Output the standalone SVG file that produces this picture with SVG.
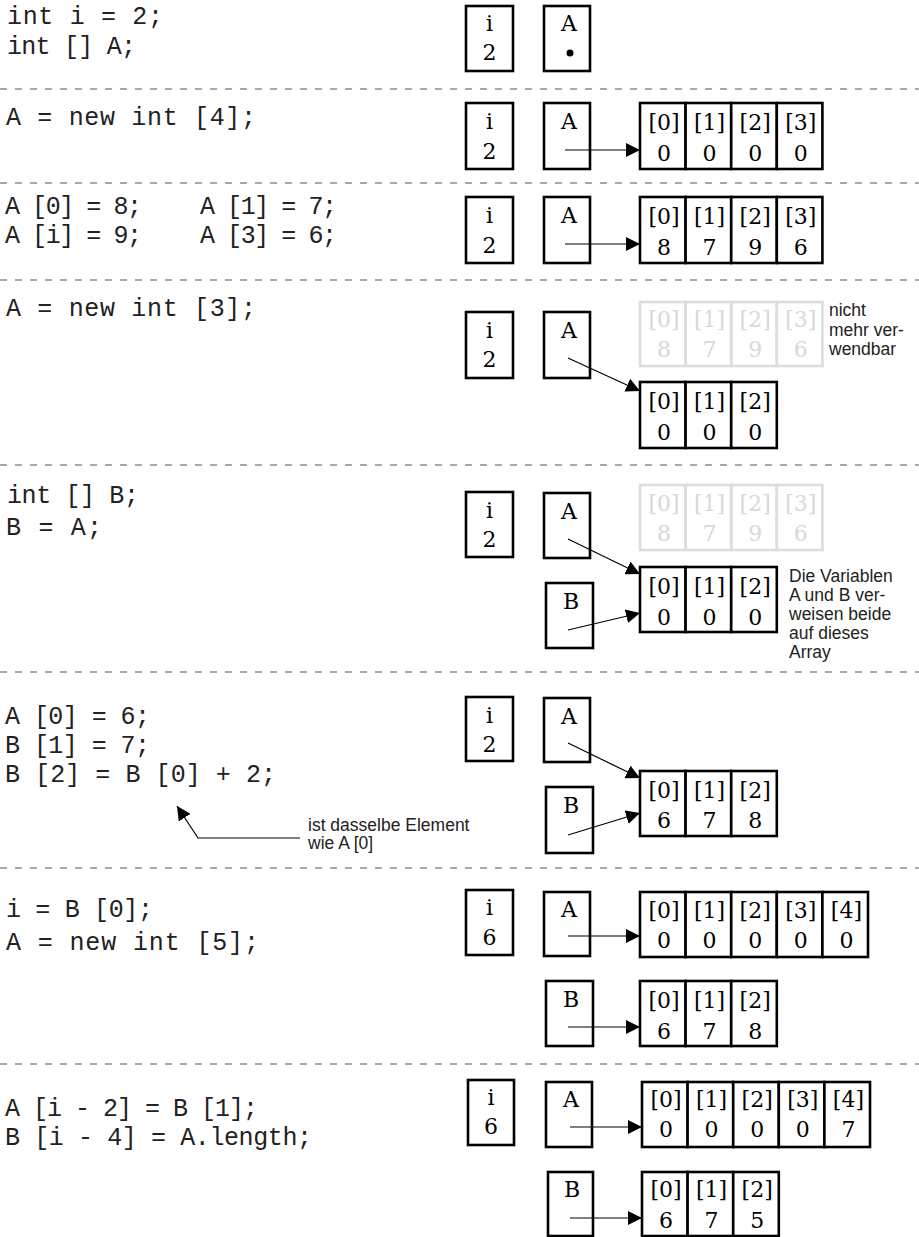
<svg xmlns="http://www.w3.org/2000/svg" width="919" height="1237" viewBox="0 0 919 1237">
<defs>
<marker id="ah" viewBox="0 0 14 14" refX="14" refY="7" markerWidth="14" markerHeight="14" markerUnits="userSpaceOnUse" orient="auto"><path d="M0,0 L14,7 L0,14 z" fill="#000"/></marker>
<style>
.box{fill:#fff;stroke:#000;stroke-width:2.6}
.fbox{fill:none;stroke:#dcdcdc;stroke-width:2.6}
.lbl{font-family:"DejaVu Serif","Liberation Serif",serif;font-size:22px;text-anchor:middle;fill:#000}
.flbl{font-family:"DejaVu Serif","Liberation Serif",serif;font-size:22px;text-anchor:middle;fill:#d8d8d8}
.code{font-family:"Liberation Mono",monospace;font-size:25px;fill:#222;white-space:pre}
.note{font-family:"Liberation Sans",sans-serif;font-size:17.5px;fill:#222}
.sep{stroke:#555;stroke-width:1.2;stroke-dasharray:7 8;fill:none}
.conn{stroke:#000;stroke-width:1.2;fill:none;marker-end:url(#ah)}
</style>
</defs>
<rect width="919" height="1237" fill="#fff"/>

<g id="separators">
<line class="sep" x1="0" y1="89" x2="919" y2="89"/>
<line class="sep" x1="0" y1="183" x2="919" y2="183"/>
<line class="sep" x1="0" y1="280" x2="919" y2="280"/>
<line class="sep" x1="0" y1="465" x2="919" y2="465"/>
<line class="sep" x1="0" y1="672" x2="919" y2="672"/>
<line class="sep" x1="0" y1="868" x2="919" y2="868"/>
<line class="sep" x1="0" y1="1064" x2="919" y2="1064"/>
</g>

<g id="code">
<text class="code" x="7" y="24" textLength="156" lengthAdjust="spacing">int i = 2;</text>
<text class="code" x="7" y="54" textLength="129" lengthAdjust="spacing">int [] A;</text>
<text class="code" x="6" y="125" textLength="250" lengthAdjust="spacing">A = new int [4];</text>
<text class="code" x="5" y="214" textLength="137" lengthAdjust="spacing">A [0] = 8;</text>
<text class="code" x="200" y="214" textLength="137" lengthAdjust="spacing">A [1] = 7;</text>
<text class="code" x="5" y="243" textLength="137" lengthAdjust="spacing">A [i] = 9;</text>
<text class="code" x="200" y="243" textLength="137" lengthAdjust="spacing">A [3] = 6;</text>
<text class="code" x="6" y="316" textLength="250" lengthAdjust="spacing">A = new int [3];</text>
<text class="code" x="7" y="503" textLength="132" lengthAdjust="spacing">int [] B;</text>
<text class="code" x="6" y="535" textLength="96" lengthAdjust="spacing">B = A;</text>
<text class="code" x="5" y="724" textLength="145" lengthAdjust="spacing">A [0] = 6;</text>
<text class="code" x="5" y="753" textLength="145" lengthAdjust="spacing">B [1] = 7;</text>
<text class="code" x="5" y="782" textLength="271" lengthAdjust="spacing">B [2] = B [0] + 2;</text>
<text class="code" x="6" y="917" textLength="147" lengthAdjust="spacing">i = B [0];</text>
<text class="code" x="6" y="950" textLength="253" lengthAdjust="spacing">A = new int [5];</text>
<text class="code" x="5" y="1116" textLength="253" lengthAdjust="spacing">A [i - 2] = B [1];</text>
<text class="code" x="5" y="1145" textLength="307" lengthAdjust="spacing">B [i - 4] = A.length;</text>
</g>

<!-- Section 1 -->
<g id="s1-i"><rect class="box" x="466" y="6" width="47" height="65"/><text class="lbl" x="489.5" y="31">i</text><text class="lbl" x="489.5" y="60">2</text></g>
<g id="s1-A"><rect class="box" x="544" y="6" width="46" height="65"/><text class="lbl" x="569" y="31">A</text><circle cx="570" cy="53" r="3.5" fill="#000"/></g>

<!-- Section 2 -->
<g id="s2-i"><rect class="box" x="466" y="103" width="47" height="66"/><text class="lbl" x="489.5" y="129">i</text><text class="lbl" x="489.5" y="159">2</text></g>
<g id="s2-A"><rect class="box" x="544" y="103" width="46" height="66"/><text class="lbl" x="569" y="129">A</text></g>
<g id="s2-arr">
<rect class="box" x="640" y="103" width="45.6" height="66"/><rect class="box" x="685.6" y="103" width="45.6" height="66"/><rect class="box" x="731.2" y="103" width="45.6" height="66"/><rect class="box" x="776.8" y="103" width="45.6" height="66"/>
<text class="lbl" x="664" y="130">[0]</text><text class="lbl" x="709.6" y="130">[1]</text><text class="lbl" x="755.2" y="130">[2]</text><text class="lbl" x="800.8" y="130">[3]</text>
<text class="lbl" x="664" y="161">0</text><text class="lbl" x="709.6" y="161">0</text><text class="lbl" x="755.2" y="161">0</text><text class="lbl" x="800.8" y="161">0</text>
</g>

<!-- Section 3 -->
<g id="s3-i"><rect class="box" x="466" y="197" width="47" height="66"/><text class="lbl" x="489.5" y="223">i</text><text class="lbl" x="489.5" y="253">2</text></g>
<g id="s3-A"><rect class="box" x="544" y="197" width="46" height="66"/><text class="lbl" x="569" y="223">A</text></g>
<g id="s3-arr">
<rect class="box" x="640" y="197" width="45.6" height="66"/><rect class="box" x="685.6" y="197" width="45.6" height="66"/><rect class="box" x="731.2" y="197" width="45.6" height="66"/><rect class="box" x="776.8" y="197" width="45.6" height="66"/>
<text class="lbl" x="664" y="224">[0]</text><text class="lbl" x="709.6" y="224">[1]</text><text class="lbl" x="755.2" y="224">[2]</text><text class="lbl" x="800.8" y="224">[3]</text>
<text class="lbl" x="664" y="255">8</text><text class="lbl" x="709.6" y="255">7</text><text class="lbl" x="755.2" y="255">9</text><text class="lbl" x="800.8" y="255">6</text>
</g>

<!-- Section 4 -->
<g id="s4-i"><rect class="box" x="466" y="312" width="47" height="66"/><text class="lbl" x="489.5" y="338">i</text><text class="lbl" x="489.5" y="367">2</text></g>
<g id="s4-A"><rect class="box" x="544" y="312" width="46" height="66"/><text class="lbl" x="569" y="338">A</text></g>
<g id="s4-old">
<rect class="fbox" x="640" y="302" width="45.6" height="64"/><rect class="fbox" x="685.6" y="302" width="45.6" height="64"/><rect class="fbox" x="731.2" y="302" width="45.6" height="64"/><rect class="fbox" x="776.8" y="302" width="45.6" height="64"/>
<text class="flbl" x="664" y="327">[0]</text><text class="flbl" x="709.6" y="327">[1]</text><text class="flbl" x="755.2" y="327">[2]</text><text class="flbl" x="800.8" y="327">[3]</text>
<text class="flbl" x="664" y="357">8</text><text class="flbl" x="709.6" y="357">7</text><text class="flbl" x="755.2" y="357">9</text><text class="flbl" x="800.8" y="357">6</text>
</g>
<g id="s4-note"><text class="note" x="829" y="316">nicht</text><text class="note" x="829" y="336">mehr ver-</text><text class="note" x="829" y="355">wendbar</text></g>
<g id="s4-arr">
<rect class="box" x="640" y="382" width="45.6" height="66"/><rect class="box" x="685.6" y="382" width="45.6" height="66"/><rect class="box" x="731.2" y="382" width="45.6" height="66"/>
<text class="lbl" x="664" y="409">[0]</text><text class="lbl" x="709.6" y="409">[1]</text><text class="lbl" x="755.2" y="409">[2]</text>
<text class="lbl" x="664" y="440">0</text><text class="lbl" x="709.6" y="440">0</text><text class="lbl" x="755.2" y="440">0</text>
</g>

<!-- Section 5 -->
<g id="s5-i"><rect class="box" x="466" y="492" width="47" height="65"/><text class="lbl" x="489.5" y="518">i</text><text class="lbl" x="489.5" y="547">2</text></g>
<g id="s5-A"><rect class="box" x="544" y="493" width="46" height="65"/><text class="lbl" x="569" y="519">A</text></g>
<g id="s5-B"><rect class="box" x="546" y="583" width="47" height="65"/><text class="lbl" x="571" y="609">B</text></g>
<g id="s5-old">
<rect class="fbox" x="640" y="485" width="45.6" height="65"/><rect class="fbox" x="685.6" y="485" width="45.6" height="65"/><rect class="fbox" x="731.2" y="485" width="45.6" height="65"/><rect class="fbox" x="776.8" y="485" width="45.6" height="65"/>
<text class="flbl" x="664" y="511">[0]</text><text class="flbl" x="709.6" y="511">[1]</text><text class="flbl" x="755.2" y="511">[2]</text><text class="flbl" x="800.8" y="511">[3]</text>
<text class="flbl" x="664" y="541">8</text><text class="flbl" x="709.6" y="541">7</text><text class="flbl" x="755.2" y="541">9</text><text class="flbl" x="800.8" y="541">6</text>
</g>
<g id="s5-arr">
<rect class="box" x="640" y="567" width="45.6" height="65"/><rect class="box" x="685.6" y="567" width="45.6" height="65"/><rect class="box" x="731.2" y="567" width="45.6" height="65"/>
<text class="lbl" x="664" y="594">[0]</text><text class="lbl" x="709.6" y="594">[1]</text><text class="lbl" x="755.2" y="594">[2]</text>
<text class="lbl" x="664" y="625">0</text><text class="lbl" x="709.6" y="625">0</text><text class="lbl" x="755.2" y="625">0</text>
</g>
<g id="s5-note"><text class="note" x="789" y="582">Die Variablen</text><text class="note" x="789" y="601">A und B ver-</text><text class="note" x="789" y="620">weisen beide</text><text class="note" x="789" y="639">auf dieses</text><text class="note" x="789" y="658">Array</text></g>

<!-- Section 6 -->
<g id="s6-i"><rect class="box" x="466" y="697" width="47" height="64"/><text class="lbl" x="489.5" y="723">i</text><text class="lbl" x="489.5" y="752">2</text></g>
<g id="s6-A"><rect class="box" x="544" y="698" width="46" height="64"/><text class="lbl" x="569" y="724">A</text></g>
<g id="s6-B"><rect class="box" x="546" y="787" width="47" height="66"/><text class="lbl" x="571" y="813">B</text></g>
<g id="s6-arr">
<rect class="box" x="640" y="771" width="45.6" height="65"/><rect class="box" x="685.6" y="771" width="45.6" height="65"/><rect class="box" x="731.2" y="771" width="45.6" height="65"/>
<text class="lbl" x="664" y="798">[0]</text><text class="lbl" x="709.6" y="798">[1]</text><text class="lbl" x="755.2" y="798">[2]</text>
<text class="lbl" x="664" y="828">6</text><text class="lbl" x="709.6" y="828">7</text><text class="lbl" x="755.2" y="828">8</text>
</g>
<g id="s6-note"><text class="note" x="308" y="831">ist dasselbe Element</text><text class="note" x="308" y="849">wie A [0]</text></g>

<!-- Section 7 -->
<g id="s7-i"><rect class="box" x="466" y="890" width="47" height="65"/><text class="lbl" x="489.5" y="915">i</text><text class="lbl" x="489.5" y="945">6</text></g>
<g id="s7-A"><rect class="box" x="544" y="892" width="46" height="64"/><text class="lbl" x="569" y="917">A</text></g>
<g id="s7-B"><rect class="box" x="546" y="981" width="47" height="65"/><text class="lbl" x="571" y="1007">B</text></g>
<g id="s7-arrA">
<rect class="box" x="640" y="892" width="45.6" height="65"/><rect class="box" x="685.6" y="892" width="45.6" height="65"/><rect class="box" x="731.2" y="892" width="45.6" height="65"/><rect class="box" x="776.8" y="892" width="45.6" height="65"/><rect class="box" x="822.4" y="892" width="45.6" height="65"/>
<text class="lbl" x="664" y="918">[0]</text><text class="lbl" x="709.6" y="918">[1]</text><text class="lbl" x="755.2" y="918">[2]</text><text class="lbl" x="800.8" y="918">[3]</text><text class="lbl" x="846.4" y="918">[4]</text>
<text class="lbl" x="664" y="948">0</text><text class="lbl" x="709.6" y="948">0</text><text class="lbl" x="755.2" y="948">0</text><text class="lbl" x="800.8" y="948">0</text><text class="lbl" x="846.4" y="948">0</text>
</g>
<g id="s7-arrB">
<rect class="box" x="640" y="981" width="45.6" height="65"/><rect class="box" x="685.6" y="981" width="45.6" height="65"/><rect class="box" x="731.2" y="981" width="45.6" height="65"/>
<text class="lbl" x="664" y="1008">[0]</text><text class="lbl" x="709.6" y="1008">[1]</text><text class="lbl" x="755.2" y="1008">[2]</text>
<text class="lbl" x="664" y="1039">6</text><text class="lbl" x="709.6" y="1039">7</text><text class="lbl" x="755.2" y="1039">8</text>
</g>

<!-- Section 8 -->
<g id="s8-i"><rect class="box" x="468" y="1080" width="46" height="65"/><text class="lbl" x="491" y="1105">i</text><text class="lbl" x="491" y="1134">6</text></g>
<g id="s8-A"><rect class="box" x="546" y="1082" width="46" height="65"/><text class="lbl" x="571" y="1107">A</text></g>
<g id="s8-B"><rect class="box" x="548" y="1172" width="45" height="64"/><text class="lbl" x="572" y="1197">B</text></g>
<g id="s8-arrA">
<rect class="box" x="642" y="1082" width="45.6" height="65"/><rect class="box" x="687.6" y="1082" width="45.6" height="65"/><rect class="box" x="733.2" y="1082" width="45.6" height="65"/><rect class="box" x="778.8" y="1082" width="45.6" height="65"/><rect class="box" x="824.4" y="1082" width="45.6" height="65"/>
<text class="lbl" x="666" y="1107">[0]</text><text class="lbl" x="711.6" y="1107">[1]</text><text class="lbl" x="757.2" y="1107">[2]</text><text class="lbl" x="802.8" y="1107">[3]</text><text class="lbl" x="848.4" y="1107">[4]</text>
<text class="lbl" x="666" y="1137">0</text><text class="lbl" x="711.6" y="1137">0</text><text class="lbl" x="757.2" y="1137">0</text><text class="lbl" x="802.8" y="1137">0</text><text class="lbl" x="848.4" y="1137">7</text>
</g>
<g id="s8-arrB">
<rect class="box" x="642" y="1172" width="45.6" height="64"/><rect class="box" x="687.6" y="1172" width="45.6" height="64"/><rect class="box" x="733.2" y="1172" width="45.6" height="64"/>
<text class="lbl" x="666" y="1197">[0]</text><text class="lbl" x="711.6" y="1197">[1]</text><text class="lbl" x="757.2" y="1197">[2]</text>
<text class="lbl" x="666" y="1228">6</text><text class="lbl" x="711.6" y="1228">7</text><text class="lbl" x="757.2" y="1228">5</text>
</g>

<g id="connectors">
<line class="conn" x1="565" y1="150" x2="640" y2="150"/>
<line class="conn" x1="565" y1="244" x2="640" y2="244"/>
<line class="conn" x1="568" y1="358" x2="640" y2="391"/>
<line class="conn" x1="568" y1="539" x2="640" y2="574"/>
<line class="conn" x1="568" y1="630" x2="640" y2="613"/>
<line class="conn" x1="568" y1="743" x2="640" y2="778"/>
<line class="conn" x1="568" y1="835" x2="640" y2="813"/>
<polyline class="conn" points="300,838 198,838 177,806"/>
<line class="conn" x1="568" y1="936" x2="640" y2="936"/>
<line class="conn" x1="568" y1="1027" x2="640" y2="1027"/>
<line class="conn" x1="570" y1="1127" x2="642" y2="1127"/>
<line class="conn" x1="570" y1="1218" x2="642" y2="1218"/>
</g>
</svg>
